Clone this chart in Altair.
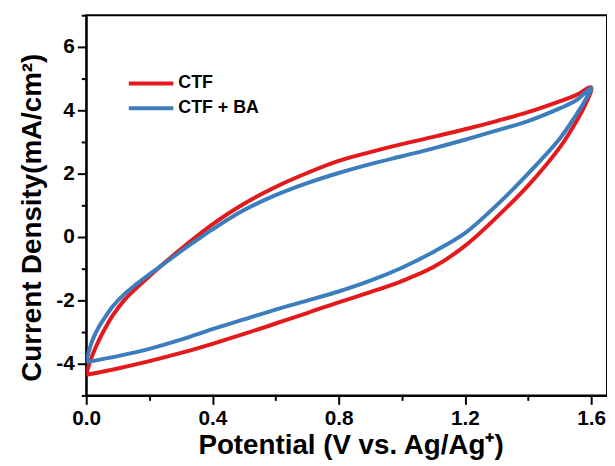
import altair as alt
import pandas as pd

# CTF loop (forward sweep then reverse sweep)
ctf_v = [0.0, 0.01, 0.02, 0.04, 0.06, 0.083, 0.12, 0.16, 0.2, 0.25, 0.3, 0.35, 0.4, 0.5, 0.6, 0.7, 0.8, 0.9, 1.0, 1.1, 1.2, 1.3, 1.4, 1.5, 1.55, 1.6,
         1.58, 1.55, 1.5, 1.4, 1.3, 1.2, 1.1, 1.0, 0.9, 0.8, 0.7, 0.6, 0.5, 0.4, 0.3, 0.2, 0.1, 0.0]
ctf_j = [-4.35, -4.00, -3.72, -3.26, -2.88, -2.49, -2.00, -1.60, -1.24, -0.80, -0.38, 0.02, 0.40, 1.05, 1.58, 2.02, 2.40, 2.68, 2.93, 3.16, 3.40, 3.66, 3.94, 4.28, 4.47, 4.72,
         4.15, 3.60, 2.82, 1.62, 0.62, -0.28, -0.95, -1.39, -1.74, -2.06, -2.40, -2.73, -3.06, -3.37, -3.66, -3.92, -4.15, -4.35]

# CTF + BA loop
ba_v = [0.0, 0.01, 0.02, 0.04, 0.06, 0.083, 0.12, 0.16, 0.2, 0.25, 0.3, 0.35, 0.4, 0.5, 0.6, 0.7, 0.8, 0.9, 1.0, 1.1, 1.2, 1.3, 1.4, 1.5, 1.55, 1.6,
        1.58, 1.55, 1.5, 1.4, 1.3, 1.2, 1.1, 1.0, 0.9, 0.8, 0.7, 0.6, 0.5, 0.4, 0.3, 0.2, 0.1, 0.0]
ba_j = [-3.95, -3.55, -3.25, -2.84, -2.53, -2.20, -1.81, -1.48, -1.18, -0.82, -0.45, -0.10, 0.24, 0.85, 1.32, 1.70, 2.02, 2.30, 2.55, 2.80, 3.07, 3.36, 3.66, 4.06, 4.30, 4.70,
        4.30, 3.82, 3.10, 2.00, 1.00, 0.12, -0.47, -0.97, -1.38, -1.72, -2.01, -2.29, -2.60, -2.91, -3.24, -3.53, -3.76, -3.95]

series_names = ["CTF", "CTF + BA"]
series_colors = ["#E3191C", "#3C7DBE"]

rows = []
for name, vs, js in [("CTF", ctf_v, ctf_j), ("CTF + BA", ba_v, ba_j)]:
    for i, (v, j) in enumerate(zip(vs, js)):
        rows.append({"series": name, "V": v, "J": j, "idx": i})
df = pd.DataFrame(rows)

legend_df = pd.DataFrame({"series": series_names, "row": list(range(len(series_names)))})

FONT = "Liberation Sans"

x_ticks = [0.0, 0.2, 0.4, 0.6, 0.8, 1.0, 1.2, 1.4, 1.6]
y_ticks = list(range(-5, 8))

color_scale = alt.Scale(domain=series_names, range=series_colors)

lines = alt.Chart(df).mark_line(strokeWidth=4, interpolate="catmull-rom", clip=True).encode(
    x=alt.X("V:Q", scale=alt.Scale(domain=[0, 1.65], nice=False, zero=False),
            axis=alt.Axis(title="Potential (V vs. Ag/Ag⁺)", values=x_ticks, format=".1f",
                          labelExpr="round(datum.value*10) % 4 === 0 ? datum.label : ''",
                          tickSize={"condition": {"test": "round(datum.value*10) % 4 === 0", "value": 9}, "value": 5},
                          grid=False, domainColor="black", domainWidth=2, tickColor="black", tickWidth=2,
                          labelFont=FONT, labelFontSize=21, labelFontWeight="bold", labelColor="black",
                          labelPadding=3, labelFlush=False,
                          titleFont=FONT, titleFontSize=28, titleFontWeight="bold", titleColor="black",
                          titlePadding=4, titleX=267)),
    y=alt.Y("J:Q", scale=alt.Scale(domain=[-5, 7], nice=False, zero=False),
            axis=alt.Axis(title="Current Density(mA/cm²)", values=y_ticks,
                          labelExpr="abs(datum.value) % 2 === 0 ? toString(datum.value) : ''",
                          tickSize={"condition": {"test": "abs(datum.value) % 2 === 0", "value": 9}, "value": 5},
                          grid=False, domainColor="black", domainWidth=2, tickColor="black", tickWidth=2,
                          labelFont=FONT, labelFontSize=21, labelFontWeight="bold", labelColor="black",
                          labelPadding=3, labelFlush=False,
                          titleFont=FONT, titleFontSize=28, titleFontWeight="bold", titleColor="black",
                          titlePadding=10, titleY=204)),
    color=alt.Color("series:N", scale=color_scale, legend=None),
    order=alt.Order("idx:Q"),
    detail="series:N",
)

# legend key drawn inside the plot
leg_y = alt.Y("row:Q", scale=alt.Scale(domain=[0, 1], range=[69, 94]), axis=None)
leg_lines = alt.Chart(legend_df).mark_rule(strokeWidth=4).encode(
    x=alt.value(43), x2=alt.value(88), y=leg_y,
    color=alt.Color("series:N", scale=color_scale, legend=None),
)
leg_text = alt.Chart(legend_df).mark_text(align="left", baseline="middle", font=FONT, fontSize=18,
                                          fontWeight="bold", color="black").encode(
    x=alt.value(93), y=leg_y, text="series:N",
)

chart = alt.layer(lines, leg_lines, leg_text).resolve_scale(y="independent").properties(
    width=526, height=384,
    autosize="none",
    padding={"left": 79, "top": 5, "right": 0, "bottom": 70},
).configure_view(stroke="black", strokeWidth=2)

chart.save("out.html", embed_options={"renderer": "svg", "actions": False})
